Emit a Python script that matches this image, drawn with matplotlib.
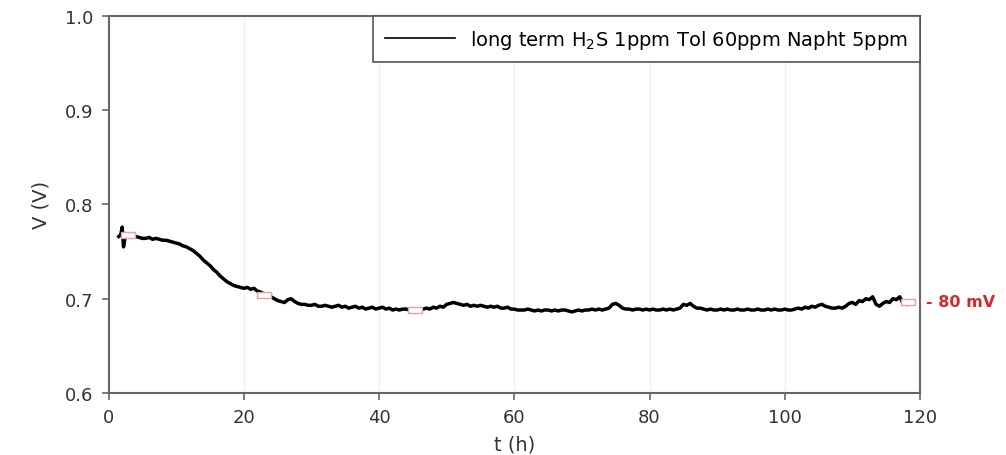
import numpy as np
import matplotlib.pyplot as plt

plt.rcParams['font.family'] = ['DejaVu Sans']

# start of the record (spike near t = 2 h)
t_start = [1.5, 1.8, 2.0, 2.1, 2.2, 2.4]
v_start = [0.766, 0.768, 0.776, 0.766, 0.755, 0.764]

# 0.5 h sampling from 2.5 h to 118 h
t_grid = np.arange(2.5, 118.01, 0.5)
v_grid = [
    0.768, 0.766, 0.767, 0.766, 0.765, 0.764, 0.764, 0.765, 0.763, 0.764,
    0.763, 0.762, 0.762, 0.761, 0.760, 0.759, 0.758, 0.756, 0.755, 0.753,
    0.751, 0.748, 0.745, 0.741, 0.738, 0.735, 0.731, 0.728, 0.724, 0.721,
    0.718, 0.716, 0.714, 0.713, 0.712, 0.711, 0.712, 0.710, 0.711, 0.708,
    0.707, 0.705, 0.704, 0.702, 0.700, 0.698, 0.697, 0.696, 0.699, 0.700,
    0.697, 0.695, 0.694, 0.694, 0.693, 0.693, 0.694, 0.692, 0.692, 0.693,
    0.692, 0.691, 0.692, 0.693, 0.691, 0.692, 0.690, 0.691, 0.692, 0.690,
    0.691, 0.689, 0.690, 0.691, 0.689, 0.690, 0.691, 0.689, 0.690, 0.688,
    0.689, 0.688, 0.689, 0.689, 0.688, 0.688, 0.687, 0.688, 0.689, 0.690,
    0.689, 0.691, 0.690, 0.692, 0.691, 0.694, 0.695, 0.696, 0.695, 0.694,
    0.693, 0.694, 0.692, 0.693, 0.692, 0.693, 0.692, 0.691, 0.692, 0.691,
    0.692, 0.690, 0.690, 0.691, 0.689, 0.689, 0.688, 0.688, 0.688, 0.689,
    0.688, 0.687, 0.688, 0.687, 0.688, 0.688, 0.687, 0.688, 0.687, 0.688,
    0.688, 0.687, 0.686, 0.687, 0.688, 0.687, 0.688, 0.688, 0.689, 0.688,
    0.689, 0.688, 0.689, 0.690, 0.694, 0.695, 0.693, 0.690, 0.689, 0.689,
    0.688, 0.689, 0.689, 0.688, 0.689, 0.688, 0.689, 0.688, 0.688, 0.689,
    0.688, 0.689, 0.688, 0.689, 0.690, 0.694, 0.693, 0.695, 0.692, 0.690,
    0.690, 0.689, 0.688, 0.689, 0.688, 0.688, 0.689, 0.688, 0.689, 0.688,
    0.688, 0.689, 0.688, 0.688, 0.689, 0.688, 0.688, 0.689, 0.688, 0.688,
    0.689, 0.688, 0.689, 0.688, 0.688, 0.689, 0.688, 0.688, 0.689, 0.690,
    0.689, 0.691, 0.690, 0.692, 0.691, 0.693, 0.694, 0.692, 0.691, 0.690,
    0.690, 0.691, 0.690, 0.692, 0.695, 0.696, 0.694, 0.698, 0.697, 0.700,
    0.699, 0.702, 0.694, 0.692, 0.695, 0.697, 0.696, 0.700, 0.699, 0.702,
    0.695, 0.694,
]

t = np.concatenate([t_start, t_grid])
v = np.concatenate([v_start, v_grid])

# red box markers
mark_t = [2.8, 23.0, 45.3, 118.2]
mark_v = [0.7675, 0.704, 0.688, 0.6965]

fig = plt.figure(figsize=(10.06, 4.56), dpi=100)
ax = fig.add_axes([0.108, 0.136, 0.8065, 0.827])

ax.plot(t, v, color='black', lw=2.5,
        label='long term H$_2$S 1ppm Tol 60ppm Napht 5ppm')
box = [(-2.2, -1), (2.2, -1), (2.2, 1), (-2.2, 1), (-2.2, -1)]
ax.scatter(mark_t, mark_v, marker=box, s=90, facecolor='white',
           edgecolor='#e8a0a0', linewidths=1, zorder=3)

ax.set_xlim(0, 120)
ax.set_ylim(0.6, 1.0)
ax.set_xticks([0, 20, 40, 60, 80, 100, 120])
ax.set_yticks([0.6, 0.7, 0.8, 0.9, 1.0])
ax.xaxis.grid(True, color='#f0f0f0', lw=1)
ax.set_axisbelow(True)
for s in ax.spines.values():
    s.set_color('#666666')
    s.set_linewidth(1.5)
ax.tick_params(direction='out', length=5, width=1.2, color='#666666',
               labelsize=13, labelcolor='#333333', pad=6)
ax.set_xlabel('t (h)', fontsize=14, color='#333333', labelpad=6)
ax.set_ylabel('V (V)', fontsize=14, color='#333333', labelpad=10)

ax.text(120.9, 0.697, '- 80 mV', color='#d42a2a', fontsize=11.5,
        fontweight='bold', va='center', ha='left', clip_on=False)

leg = ax.legend(loc='upper right', bbox_to_anchor=(1.0, 1.0), fontsize=14,
                fancybox=False, framealpha=1, edgecolor='#555555',
                handlelength=3.6, handletextpad=0.8, borderpad=0.6,
                borderaxespad=0)
leg.get_frame().set_linewidth(1.2)
for line in leg.get_lines():
    line.set_linewidth(1.2)

fig.savefig('out.png', dpi=100)
